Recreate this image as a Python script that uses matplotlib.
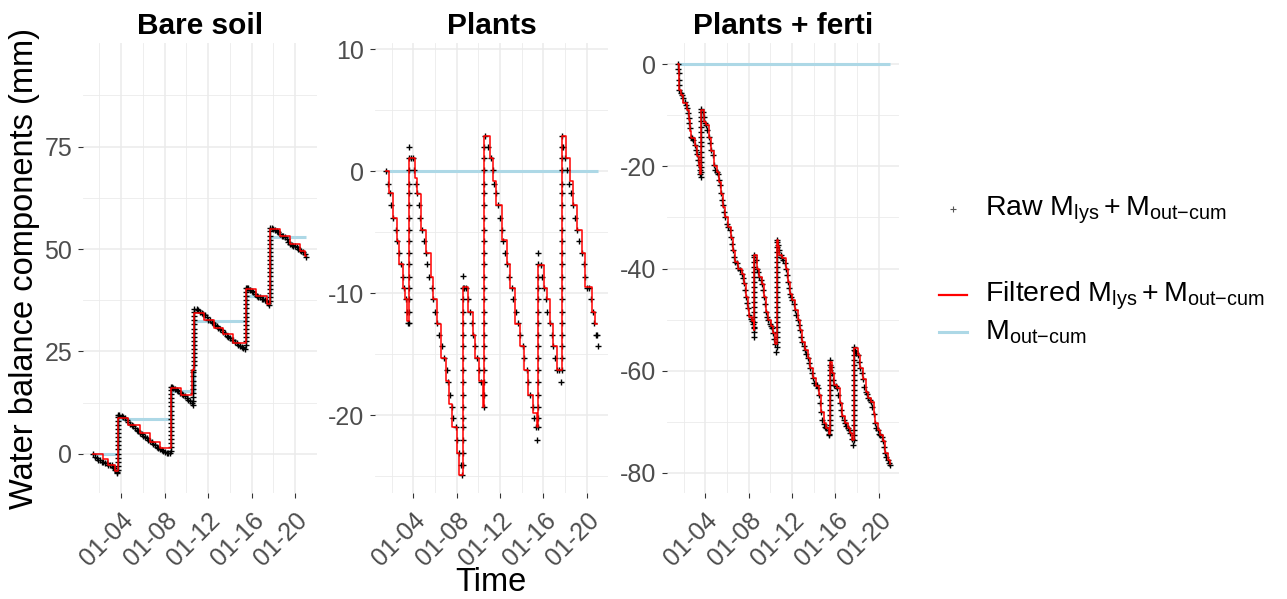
import numpy as np
import matplotlib
matplotlib.use("Agg")
import matplotlib.pyplot as plt
import matplotlib.dates as mdates
from matplotlib.lines import Line2D
from matplotlib.ticker import FixedLocator

plt.rcParams['font.family'] = ['Liberation Sans', 'DejaVu Sans']
plt.rcParams['mathtext.fontset'] = 'custom'
plt.rcParams['mathtext.rm'] = 'Liberation Sans'
plt.rcParams['mathtext.it'] = 'Liberation Sans'
plt.rcParams['mathtext.bf'] = 'Liberation Sans:bold'
plt.rcParams['axes.unicode_minus'] = False

# ---------------- data (day of January 2021, mm) ----------------
panel_titles = ["Bare soil", "Plants", "Plants + ferti"]
tick_days = [4, 8, 12, 16, 20]

# Bare soil
bare_raw_day = [1.46, 1.61, 1.77, 1.92, 2.07, 2.23, 2.38, 2.53, 2.69, 2.84, 2.99, 3.14, 3.30, 3.39, 3.48, 3.60, 3.66,
                3.85, 4.06, 4.21, 4.37, 4.52, 4.67, 4.83, 4.98, 5.13, 5.28, 5.44, 5.59, 5.74, 5.90, 6.05, 6.20, 6.36,
                6.51, 6.66, 6.81, 6.97, 7.12, 7.27, 7.43, 7.58, 7.73, 7.88, 8.04, 8.19, 8.34, 8.50,
                8.65, 8.80, 8.95, 9.11, 9.26, 9.41, 9.57, 9.72, 9.87, 10.02, 10.18, 10.33, 10.48, 10.57,
                10.94, 11.09, 11.25, 11.40, 11.55, 11.71, 11.86, 12.01, 12.17, 12.32, 12.47, 12.62, 12.78, 12.93,
                13.08, 13.24, 13.39, 13.54, 13.69, 13.85, 14.00, 14.15, 14.31, 14.46, 14.61, 14.76, 14.92, 15.07,
                15.22, 15.38,
                15.53, 15.68, 15.83, 15.99, 16.14, 16.29, 16.45, 16.60, 16.75, 16.91, 17.06, 17.21, 17.36, 17.52, 17.61,
                17.82, 17.98, 18.13, 18.28, 18.43, 18.59, 18.74, 18.89, 19.05, 19.20, 19.35, 19.50, 19.66, 19.81,
                19.96, 20.12, 20.27, 20.42, 20.57, 20.73, 20.88, 20.97]
bare_raw_mm = [0, -0.7, -1.1, -1.5, -1.5, -1.9, -1.9, -2.3, -2.3, -2.7, -2.7, -2.7, -3.1, -3.5, -3.9, -4.3, -4.7,
               9.6, 9.3, 9.0, 8.7, 8.3, 7.7, 7.4, 7.1, 6.7, 6.3, 5.9, 5.6, 5.2, 4.9, 4.4, 4.1, 3.8, 3.4, 3.1, 2.8,
               2.5, 2.1, 1.8, 1.5, 1.2, 1.0, 0.7, 0.5, 0.3, 0.2, 0.2,
               16.3, 16.1, 15.9, 15.7, 15.3, 14.9, 14.7, 14.5, 14.1, 13.6, 13.2, 12.8, 12.4, 12.0,
               35.3, 35.1, 34.7, 34.5, 34.2, 33.8, 33.3, 32.8, 32.6, 32.3, 31.9, 31.5, 31.1, 30.7, 30.5, 30.2,
               29.8, 29.4, 28.9, 28.6, 28.3, 27.9, 27.7, 27.4, 27.0, 26.6, 26.3, 26.1, 25.8, 25.5,
               40.6, 40.4, 40.0, 39.8, 39.4, 39.0, 38.6, 38.4, 38.2, 37.9, 37.8, 37.6, 37.3, 36.8, 36.3,
               55.1, 54.9, 54.7, 54.4, 54.1, 53.7, 53.3, 53.1, 52.9, 52.5, 51.6, 51.2, 51.0, 50.8, 50.7, 50.4,
               50.0, 49.8, 49.6, 49.2, 48.8, 48.0]
bare_jump_day = [3.72, 8.56, 10.62, 10.70, 15.44, 17.67]
bare_jump_mm = [[-3.9, -2.9, -1.9, -0.9, 0.1, 1.1, 2.1, 3.1, 4.1, 5.1, 6.1, 7.1, 8.1, 9.1, 9.6],
                [0.6, 1.6, 2.6, 3.6, 4.6, 5.6, 6.6, 7.6, 8.6, 9.6, 10.6, 11.6, 12.6, 13.6, 14.6, 15.6, 16.3],
                [12.9, 13.9, 14.9, 15.9, 16.9, 17.9, 18.9, 19.9, 20.6],
                [21.6, 22.6, 23.6, 24.6, 25.6, 26.6, 27.6, 28.6, 29.6, 30.6, 31.6, 32.6, 33.6, 34.6, 35.3],
                [26.5, 27.5, 28.5, 29.5, 30.5, 31.5, 32.5, 33.5, 34.5, 35.5, 36.5, 37.5, 38.5, 39.5, 40.6],
                [37.3, 38.3, 39.3, 40.3, 41.3, 42.3, 43.3, 44.3, 45.3, 46.3, 47.3, 48.3, 49.3, 50.3, 51.3, 52.3,
                 53.3, 54.3, 55.1]]
bare_filt_day = [1.46, 2.38, 2.84, 3.45, 3.74, 4.67, 5.74, 6.66, 7.58, 8.56, 9.48, 10.55, 10.68, 11.60, 12.50,
                 13.40, 14.30, 15.44, 16.40, 17.40, 17.67, 18.60, 19.50, 20.40, 20.85, 20.97]
bare_filt_mm = [0, -1.2, -2.7, -4.1, 8.7, 7.1, 5.1, 3.0, 1.4, 16.1, 14.5, 20.6, 34.5, 32.8, 30.8, 29.2, 27.1,
                40.2, 38.6, 36.5, 54.9, 53.3, 51.2, 49.6, 48.2, 48.2]
bare_out_day = [1.46, 3.74, 8.56, 10.68, 15.44, 17.67, 20.97]
bare_out_mm = [0, 8.5, 15.3, 32.4, 38.5, 52.9, 52.9]

# Plants
plants_raw_day = [1.45, 1.63, 1.82, 1.94, 2.09, 2.40, 2.52, 2.71, 2.86, 3.02, 3.14, 3.29, 3.45, 3.51, 3.63,
                  3.75, 3.94, 4.09, 4.22, 4.37, 4.52, 4.62, 4.77, 4.98, 5.17, 5.29, 5.48, 5.69, 5.85, 6.00, 6.22,
                  6.40, 6.62, 6.83, 7.08, 7.23, 7.38, 7.54, 7.69, 7.91, 8.06, 8.22, 8.37, 8.49,
                  8.68, 8.86, 9.08, 9.23, 9.42, 9.54, 9.69, 9.85, 10.09, 10.22, 10.40, 10.55,
                  10.65, 10.92, 11.14, 11.32, 11.45, 11.63, 11.85, 12.00, 12.15, 12.31, 12.46, 12.68, 12.86, 13.08,
                  13.23, 13.48, 13.69, 13.85, 14.09, 14.22, 14.46, 14.62, 14.77, 15.02, 15.14, 15.32, 15.45,
                  15.75, 15.85, 16.06, 16.25, 16.37, 16.62, 16.77, 16.92, 17.08, 17.23, 17.48, 17.60,
                  17.85, 18.00, 18.22, 18.40, 18.52, 18.71, 18.92, 19.08, 19.32, 19.54, 19.75, 19.85, 20.00, 20.25,
                  20.37, 20.55, 20.68, 20.86, 20.98, 21.08]
plants_raw_mm = [0, -1.0, -1.8, -2.8, -3.8, -4.8, -5.7, -6.7, -7.6, -8.7, -9.6, -10.5, -11.5, -12.4, -12.4,
                 1.1, 1.1, 0.1, -1.0, -1.8, -2.8, -3.8, -4.8, -5.7, -6.7, -7.6, -8.7, -9.6, -10.5, -11.5, -12.4,
                 -13.4, -14.3, -15.3, -16.3, -17.3, -18.3, -19.3, -20.2, -21.0, -22.0, -23.1, -24.1, -24.9,
                 -9.6, -9.6, -10.5, -11.5, -12.4, -13.4, -14.3, -15.3, -16.3, -17.3, -18.3, -19.3,
                 2.9, 2.0, 1.1, 0.1, -1.0, -1.8, -2.8, -3.8, -4.8, -5.7, -6.7, -7.6, -8.7, -9.6, -10.5, -11.5,
                 -12.4, -13.4, -14.3, -15.3, -16.3, -17.3, -18.3, -19.3, -20.2, -21.0, -22.0,
                 -7.7, -8.7, -9.6, -10.5, -11.5, -12.4, -13.4, -14.3, -15.3, -16.3, -16.3, -17.3,
                 2.0, 1.1, 0.1, -1.0, -1.8, -2.8, -3.8, -4.8, -5.7, -6.7, -7.6, -8.7, -9.6, -9.6, -10.5, -11.5,
                 -12.4, -13.4, -13.4, -14.3]
plants_jump_day = [3.63, 8.55, 10.57, 15.54, 17.69]
plants_jump_mm = [[-11.5, -10.5, -9.6, -8.7, -7.6, -6.7, -5.7, -4.8, -3.8, -2.8, -1.8, -1.0, 0.1, 1.1, 2.0],
                  [-24.1, -23.1, -22.0, -21.0, -20.2, -19.3, -18.3, -17.3, -16.3, -15.3, -14.3, -13.4, -12.4,
                   -11.5, -10.5, -9.6, -8.6],
                  [-18.3, -17.3, -16.3, -15.3, -14.3, -13.4, -12.4, -11.5, -10.5, -9.6, -8.7, -7.6, -6.7, -5.7,
                   -4.8, -3.8, -2.8, -1.8, -1.0, 0.1, 1.1, 2.0],
                  [-21.0, -20.2, -19.3, -18.3, -17.3, -16.3, -15.3, -14.3, -13.4, -12.4, -11.5, -10.5, -9.6, -8.7,
                   -7.6, -6.7],
                  [-16.3, -15.3, -14.3, -13.4, -12.4, -11.5, -10.5, -9.6, -8.7, -7.6, -6.7, -5.7, -4.8, -3.8, -2.8,
                   -1.8, -1.0, 0.1, 1.1, 2.0, 2.9]]
plants_filt_day = [1.45, 1.75, 2.09, 2.52, 2.71, 3.02, 3.23, 3.45,
                   3.63, 4.15, 4.37, 4.70, 5.17, 5.60, 5.80, 6.15, 6.55, 7.00, 7.30, 7.60, 8.00, 8.25,
                   8.55, 9.08, 9.48, 9.69, 10.06, 10.40,
                   10.55, 11.08, 11.32, 11.63, 12.15, 12.60, 12.92, 13.38, 13.80, 14.22, 14.62, 15.02, 15.38,
                   15.54, 16.06, 16.31, 16.62, 16.92, 17.30,
                   17.69, 18.09, 18.46, 18.71, 19.08, 19.54, 19.85, 20.46, 20.77, 20.92]
plants_filt_mm = [0, -1.8, -3.85, -5.7, -7.6, -9.6, -10.5, -12.3,
                  1.1, -0.55, -1.84, -4.8, -6.7, -8.7, -10.5, -12.5, -15.3, -17.2, -19.1, -21.0, -23.1, -24.9,
                  -9.5, -11.5, -13.4, -15.3, -17.2, -19.3,
                  2.9, 1.1, -0.8, -2.75, -5.6, -7.6, -9.6, -12.5, -14.3, -16.3, -18.3, -19.8, -21.0,
                  -7.7, -9.6, -10.5, -12.5, -14.3, -16.3,
                  2.9, 1.1, -0.8, -2.75, -4.8, -6.7, -9.5, -11.5, -12.5, -12.5]
plants_out_day = [1.45, 21.02]
plants_out_mm = [0, 0]

# Plants + ferti
ferti_raw_day = [1.45, 1.51, 1.54, 1.54, 1.60, 1.60, 1.72, 1.85, 1.97, 2.12, 2.22, 2.34, 2.40, 2.46, 2.52, 2.58,
                 2.65, 2.77, 2.89, 3.02, 3.14, 3.23, 3.32, 3.42, 3.48, 3.54, 3.57,
                 3.75, 3.85, 3.94, 4.06, 4.18, 4.31, 4.43, 4.55, 4.68, 4.80, 4.92, 5.05, 5.17, 5.26, 5.35, 5.45,
                 5.57, 5.66, 5.75, 5.85, 5.97, 6.12, 6.28, 6.37, 6.46, 6.58, 6.68, 6.77, 6.89, 7.05, 7.20, 7.35,
                 7.45, 7.54, 7.63, 7.72, 7.82, 7.91, 8.03, 8.18, 8.31, 8.40, 8.46, 8.49,
                 8.65, 8.74, 8.86, 8.98, 9.11, 9.23, 9.32, 9.42, 9.51, 9.60, 9.69, 9.82, 9.94, 10.06, 10.18, 10.28,
                 10.37, 10.46, 10.52,
                 10.74, 10.83, 10.95, 11.08, 11.20, 11.32, 11.42, 11.51, 11.60, 11.69, 11.78, 11.91, 12.03, 12.15,
                 12.28, 12.40, 12.52, 12.65, 12.77, 12.86, 12.95, 13.08, 13.20, 13.32, 13.45, 13.57, 13.69, 13.82,
                 13.94, 14.06, 14.18, 14.31, 14.43, 14.52, 14.62, 14.71, 14.80, 14.92, 15.05, 15.17, 15.29, 15.38,
                 15.45,
                 15.63, 15.72, 15.82, 15.91, 16.03, 16.15, 16.28, 16.40, 16.52, 16.65, 16.77, 16.89, 17.02, 17.14,
                 17.26, 17.38, 17.51, 17.60,
                 17.82, 17.94, 18.06, 18.18, 18.31, 18.43, 18.55, 18.68, 18.80, 18.92, 19.05, 19.17, 19.29, 19.42,
                 19.54, 19.66, 19.78, 19.91, 20.03, 20.15, 20.28, 20.40, 20.49, 20.58, 20.71, 20.83, 20.95, 21.05]
ferti_raw_mm = [0, -1.0, -1.8, -3.1, -4.1, -5.0, -5.6, -6.0, -6.7, -7.3, -8.0, -8.6, -9.6, -10.6, -11.6, -12.5,
                -14.2, -14.5, -14.8, -15.8, -16.8, -17.6, -18.8, -19.7, -20.7, -21.5, -22.0,
                -9.3, -10.4, -11.6, -11.9, -12.9, -14.2, -15.5, -16.7, -17.8, -19.7, -20.7, -21.0, -21.5, -22.7,
                -23.6, -25.3, -26.6, -27.6, -28.9, -29.9, -31.2, -31.8, -32.5, -33.8, -35.1, -36.4, -37.7, -38.7,
                -39.0, -39.8, -40.3, -41.0, -41.9, -42.9, -44.2, -45.5, -46.7, -47.8, -49.1, -49.8, -50.2, -50.8,
                -51.7, -53.4,
                -38.3, -40.0, -40.6, -41.6, -42.3, -43.0, -44.2, -45.5, -47.0, -48.5, -49.4, -50.1, -50.8, -51.3,
                -51.7, -52.7, -53.7, -54.7, -56.3,
                -35.4, -36.4, -37.4, -38.0, -38.3, -39.0, -40.0, -41.3, -42.6, -43.9, -44.9, -45.5, -46.2, -47.0,
                -48.1, -49.1, -50.1, -51.1, -52.1, -53.4, -54.3, -55.2, -55.9, -56.8, -57.6, -58.5, -59.4, -60.4,
                -61.5, -62.4, -62.8, -62.8, -63.3, -64.8, -66.4, -68.1, -69.6, -70.4, -71.0, -71.3, -71.7, -72.3,
                -72.6,
                -59.2, -60.5, -61.9, -62.8, -63.0, -63.3, -64.8, -66.4, -67.7, -68.9, -69.7, -70.3, -70.9, -71.3,
                -71.7, -72.2, -73.3, -74.6,
                -56.1, -56.5, -57.0, -58.3, -59.4, -60.5, -61.7, -63.2, -64.1, -64.6, -65.3, -65.8, -66.1, -67.1,
                -68.5, -70.3, -71.3, -71.7, -72.3, -72.6, -73.0, -73.7, -75.0, -76.1, -76.8, -77.5, -78.1, -78.5]
ferti_jump_day = [3.63, 8.52, 10.62, 15.51, 17.69]
ferti_jump_mm = [[-21.0, -20.1, -19.1, -18.1, -17.1, -16.1, -15.2, -14.2, -13.2, -12.2, -11.2, -10.3, -9.3, -8.8],
                 [-52.4, -51.4, -50.4, -49.4, -48.5, -47.5, -46.5, -45.5, -44.6, -43.6, -42.6, -41.6, -40.6,
                  -39.7, -38.7, -37.7, -37.4],
                 [-55.3, -54.3, -53.4, -52.4, -51.4, -50.4, -49.4, -48.5, -47.5, -46.5, -45.5, -44.6, -43.6,
                  -42.6, -41.6, -40.6, -39.7, -38.7, -37.7, -36.7, -35.7, -34.8, -34.4],
                 [-71.7, -70.7, -69.7, -68.7, -67.7, -66.8, -65.8, -64.8, -63.8, -62.8, -61.9, -60.9, -59.9,
                  -58.9, -57.9],
                 [-73.6, -72.6, -71.7, -70.7, -69.7, -68.7, -67.7, -66.8, -65.8, -64.8, -63.8, -62.8, -61.9,
                  -60.9, -59.9, -58.9, -57.9, -57.0, -56.0, -55.3]]
ferti_filt_day = [1.45, 1.54, 1.72, 1.97, 2.34, 2.46, 2.58, 2.65, 3.02, 3.23, 3.42, 3.54,
                  3.63, 3.85, 4.06, 4.31, 4.55, 4.80, 5.05, 5.26, 5.45, 5.66, 5.85, 6.12, 6.37, 6.58, 6.77, 7.05,
                  7.35, 7.54, 7.72, 7.91, 8.03, 8.31, 8.46,
                  8.52, 8.74, 8.98, 9.23, 9.42, 9.60, 9.82, 10.06, 10.28, 10.46,
                  10.62, 10.74, 10.83, 11.08, 11.42, 11.60, 11.78, 12.03, 12.28, 12.52, 12.77, 12.95, 13.20,
                  13.45, 13.69, 13.94, 14.18, 14.52, 14.71, 14.92, 15.17, 15.38,
                  15.51, 15.72, 15.91, 16.15, 16.40, 16.65, 16.89, 17.14, 17.38, 17.55,
                  17.69, 18.06, 18.31, 18.55, 18.80, 19.05, 19.29, 19.54, 19.66, 19.91, 20.15, 20.40, 20.58,
                  20.83, 21.00]
ferti_filt_mm = [0, -5.0, -6.0, -7.6, -9.0, -11.0, -13.0, -14.5, -16.0, -18.0, -20.0, -21.5,
                 -9.0, -11.3, -11.9, -14.5, -17.0, -20.0, -21.0, -23.0, -25.5, -28.0, -30.0, -31.8, -34.0, -36.5,
                 -38.7, -40.0, -41.0, -43.0, -45.5, -48.0, -49.5, -50.3, -52.0,
                 -37.4, -40.0, -41.6, -43.0, -45.5, -48.5, -50.1, -51.3, -52.7, -54.7,
                 -34.4, -35.5, -37.4, -38.0, -40.0, -42.6, -44.9, -46.2, -48.1, -50.1, -52.1, -54.3, -55.9,
                 -57.6, -59.4, -61.5, -63.0, -64.8, -68.0, -70.3, -71.3, -72.3,
                 -58.3, -60.5, -62.8, -63.3, -66.4, -68.9, -70.3, -71.3, -72.2, -73.6,
                 -55.6, -57.0, -59.4, -61.7, -64.1, -65.3, -66.1, -68.5, -70.3, -71.7, -72.6, -73.7, -76.1,
                 -77.5, -78.3]
ferti_out_day = [1.45, 21.0]
ferti_out_mm = [0, 0]

legend_labels = [r'Raw $\mathrm{M}_{\mathrm{lys}}+\mathrm{M}_{\mathrm{out{-}cum}}$',
                 r'Filtered $\mathrm{M}_{\mathrm{lys}}+\mathrm{M}_{\mathrm{out{-}cum}}$',
                 r'$\mathrm{M}_{\mathrm{out{-}cum}}$']
y_label = "Water balance components (mm)"
x_label = "Time"

# ---------------- drawing ----------------
W, H = 1287, 599
fig = plt.figure(figsize=(W / 100, H / 100), dpi=100)
T0 = np.datetime64('2021-01-01T00:00:00')


def to_time(days):
    d = np.atleast_1d(np.asarray(days, dtype=float))
    secs = np.round((d - 1.0) * 86400).astype(np.int64)
    return T0 + secs.astype('timedelta64[s]')


RAW_C, FILT_C, OUT_C = 'black', '#FF0000', '#ADD8E6'
MS, MEW = 4.8, 1.0
panel_top, panel_bot = 43.3, 493.3
specs = [
    dict(x0=82.7, x1=316.7, xlim=(0.48, 21.97), ylim=(-9.6, 100.2),
         major=[0, 25, 50, 75], minor=[12.5, 37.5, 62.5, 87.5],
         raw=(bare_raw_day, bare_raw_mm, bare_jump_day, bare_jump_mm),
         filt=(bare_filt_day, bare_filt_mm), out=(bare_out_day, bare_out_mm)),
    dict(x0=375.0, x1=608.3, xlim=(0.47, 21.99), ylim=(-26.4, 10.5),
         major=[-20, -10, 0, 10], minor=[-25, -15, -5, 5],
         raw=(plants_raw_day, plants_raw_mm, plants_jump_day, plants_jump_mm),
         filt=(plants_filt_day, plants_filt_mm), out=(plants_out_day, plants_out_mm)),
    dict(x0=666.7, x1=899.0, xlim=(0.44, 21.87), ylim=(-84.0, 4.1),
         major=[-80, -60, -40, -20, 0], minor=[-70, -50, -30, -10],
         raw=(ferti_raw_day, ferti_raw_mm, ferti_jump_day, ferti_jump_mm),
         filt=(ferti_filt_day, ferti_filt_mm), out=(ferti_out_day, ferti_out_mm)),
]

for title, sp in zip(panel_titles, specs):
    ax = fig.add_axes([sp['x0'] / W, 1 - panel_bot / H, (sp['x1'] - sp['x0']) / W,
                       (panel_bot - panel_top) / H])
    rd, rv, jd, jv = sp['raw']
    all_d = list(rd)
    all_v = list(rv)
    for d, vals in zip(jd, jv):
        all_d += [d] * len(vals)
        all_v += list(vals)
    ax.plot(to_time(sp['out'][0]), sp['out'][1], drawstyle='steps-post', color=OUT_C, lw=2.2, zorder=2,
            solid_capstyle='butt')
    ax.plot(to_time(all_d), all_v, ls='none', marker='+', ms=MS, mew=MEW, color=RAW_C, zorder=3)
    ax.plot(to_time(sp['filt'][0]), sp['filt'][1], drawstyle='steps-post', color=FILT_C, lw=1.1, zorder=4)

    ax.set_xlim(to_time(sp['xlim'][0])[0], to_time(sp['xlim'][1])[0])
    ax.set_ylim(sp['ylim'])
    ax.xaxis.set_major_locator(mdates.DayLocator(bymonthday=tick_days))
    ax.xaxis.set_minor_locator(mdates.DayLocator(bymonthday=[2, 6, 10, 14, 18]))
    ax.xaxis.set_major_formatter(mdates.DateFormatter('%m-%d'))
    ax.yaxis.set_major_locator(FixedLocator(sp['major']))
    ax.yaxis.set_minor_locator(FixedLocator(sp['minor']))
    ax.grid(which='major', color='#EBEBEB', lw=1.1)
    ax.grid(which='minor', color='#EBEBEB', lw=0.6)
    ax.set_axisbelow(True)
    for s in ax.spines.values():
        s.set_visible(False)
    ax.tick_params(which='major', length=3.6, width=0.8, color='#333333', labelsize=18,
                   labelcolor='#4D4D4D')
    ax.tick_params(which='minor', length=0)
    ax.tick_params(axis='y', pad=4)
    ax.tick_params(axis='x', pad=7, labelrotation=45)
    for lab in ax.get_xticklabels():
        lab.set_ha('right')
        lab.set_rotation_mode('anchor')
    ax.set_title(title, fontsize=21.5, fontweight='bold', pad=7, color='black')

fig.text(25 / W, 1 - 268.3 / H, y_label, rotation=90, ha='center', va='center', fontsize=23.5)
fig.text(491 / W, 1 - 591 / H, x_label, ha='center', va='baseline', fontsize=23.5)

# legend (shape legend + colour legend)
fig.add_artist(Line2D([953 / W], [1 - 209.3 / H], marker='+', ms=4.2, mew=0.8, color='#555555', ls='none'))
fig.text(985 / W, 1 - 215 / H, legend_labels[0], fontsize=20.5, ha='left', va='baseline')
fig.add_artist(Line2D([939 / W, 967 / W], [1 - 295 / H] * 2, color=FILT_C, lw=1.6))
fig.text(985 / W, 1 - 302 / H, legend_labels[1], fontsize=20.5, ha='left', va='baseline')
fig.add_artist(Line2D([939 / W, 967 / W], [1 - 331.7 / H] * 2, color=OUT_C, lw=2.2))
fig.text(985 / W, 1 - 339 / H, legend_labels[2], fontsize=20.5, ha='left', va='baseline')

fig.savefig('out.png', dpi=100, facecolor='white')
